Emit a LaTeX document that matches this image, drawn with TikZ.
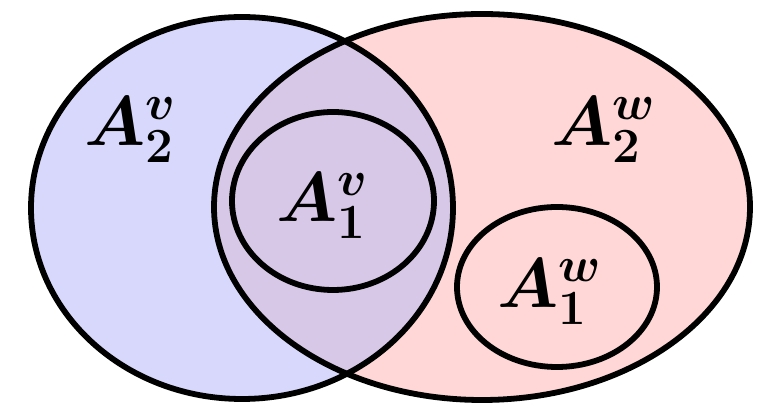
\documentclass[tikz,border=0pt]{standalone}
\usepackage{fix-cm}
\usepackage{amsmath,amssymb}
\usepackage{bm}
\usepackage{xcolor}
\usepackage{tikz}
\definecolor{setblue}{HTML}{D8D8FC}
\definecolor{setpink}{HTML}{FFD7D7}
\definecolor{setboth}{HTML}{D8C8E8}
\definecolor{setink}{HTML}{000000}

\begin{document}
\begin{tikzpicture}[x=0.02cm, y=-0.02cm,
  outline/.style={draw=setink, line width=3.3pt},
  lbl/.style={font=\fontsize{40}{46}\selectfont, text=setink, inner sep=0pt}]
\useasboundingbox (0,0) rectangle (769,411);
% fills
\fill[setblue] (242,208) ellipse [x radius=211, y radius=191];
\fill[setpink] (482,207) ellipse [x radius=268, y radius=193];
\begin{scope}
  \clip (242,208) ellipse [x radius=211, y radius=191];
  \fill[setboth] (482,207) ellipse [x radius=268, y radius=193];
\end{scope}
% outlines
\draw[outline] (242,208) ellipse [x radius=211, y radius=191];
\draw[outline] (482,207) ellipse [x radius=268, y radius=193];
\draw[outline] (333,201) ellipse [x radius=101, y radius=89];
\draw[outline] (557,287) ellipse [x radius=100, y radius=80];
% labels
\node[lbl] (a2v) at (130,130) {$\bm{A_2^v}$};
\node[lbl] (a2w) at (604,130) {$\bm{A_2^w}$};
\node[lbl] (a1v) at (322,206) {$\bm{A_1^v}$};
\node[lbl] (a1w) at (550,292) {$\bm{A_1^w}$};
\end{tikzpicture}
\end{document}
